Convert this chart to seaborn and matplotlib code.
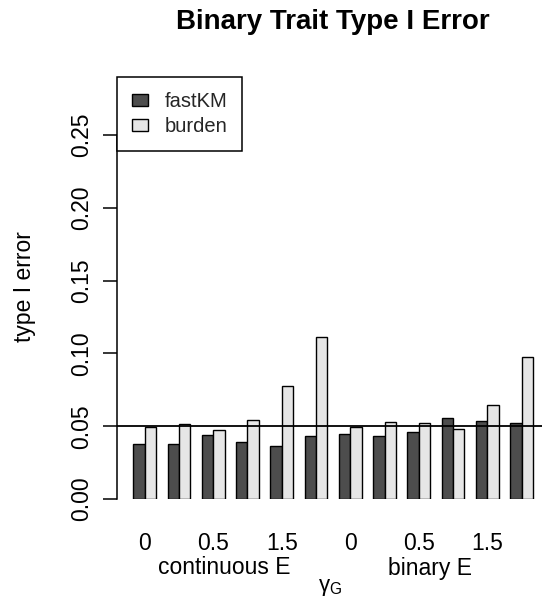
import numpy as np
import pandas as pd
import matplotlib
matplotlib.use("Agg")
import matplotlib.pyplot as plt
import matplotlib.transforms as mtransforms
from matplotlib.patches import Patch
import seaborn as sns

# Simulated type I error rates, six gamma_G settings per environment type
environments = ["continuous E", "binary E"]
gamma_labels = ["0", "", "0.5", "", "1.5", ""]
fastkm = [0.0375, 0.0375, 0.0443, 0.0391, 0.0366, 0.0430,
          0.0450, 0.0430, 0.0459, 0.0559, 0.0536, 0.0523]
burden = [0.0495, 0.0514, 0.0473, 0.0545, 0.0775, 0.1116,
          0.0495, 0.0530, 0.0523, 0.0484, 0.0645, 0.0975]
methods = ["fastKM", "burden"]
colors = {"fastKM": "#4d4d4d", "burden": "#e6e6e6"}
alpha_level = 0.05

n_groups = len(fastkm)
groups = [f"{env}|{i}" for env in environments for i in range(len(gamma_labels))]
df = pd.DataFrame({
    "group": groups * 2,
    "method": ["fastKM"] * n_groups + ["burden"] * n_groups,
    "rate": fastkm + burden,
})

sns.set_theme(style="white")
plt.rcParams["font.family"] = ["Liberation Sans", "DejaVu Sans"]
plt.rcParams["mathtext.fontset"] = "custom"
plt.rcParams["mathtext.rm"] = "Liberation Sans"

W, H = 542, 606
fig = plt.figure(figsize=(W / 100, H / 100), dpi=100)
ax = fig.add_axes([117 / W, 1 - 499 / H, (549 - 117) / W, (499 - 77) / H])

sns.barplot(data=df, x="group", y="rate", hue="method", order=groups,
            hue_order=methods, palette=colors, saturation=1, width=2 / 3,
            edgecolor="black", linewidth=1.0, errorbar=None, ax=ax,
            legend=False)

ax.set_xlim(-0.808, 11.80)
ax.set_ylim(0, 0.29)
ax.axhline(alpha_level, color="black", lw=1.3, zorder=5)

# y axis in base-R style: bounded spine, outward ticks, rotated labels
for side in ["top", "right", "bottom"]:
    ax.spines[side].set_visible(False)
ax.spines["left"].set_bounds(0, 0.25)
ax.spines["left"].set_color("black")
ax.spines["left"].set_linewidth(1.1)
yticks = [0.00, 0.05, 0.10, 0.15, 0.20, 0.25]
ax.set_yticks(yticks)
ax.set_yticklabels([f"{t:.2f}" for t in yticks], rotation=90, va="center")
ax.tick_params(axis="y", direction="out", length=10, width=1.1,
               color="black", pad=7, labelsize=16.5, labelcolor="black",
               left=True)

ax.set_xticks(range(n_groups))
ax.set_xticklabels(gamma_labels * len(environments))
ax.tick_params(axis="x", length=0, pad=24, labelsize=16.5, labelcolor="black")
ax.set_xlabel("")
ax.set_ylabel("")

# environment labels under each block of six groups
trans = mtransforms.blended_transform_factory(ax.transData, fig.transFigure)
for k, env in enumerate(environments):
    xc = k * len(gamma_labels) + (len(gamma_labels) - 1) / 2 - 0.18
    ax.text(xc, 1 - 568 / H, env, transform=trans, ha="center", va="center",
            fontsize=16.5, color="black")

fig.text(330 / W, 1 - 588 / H, "γ$_{\\mathrm{G}}$", ha="center",
         va="center", fontsize=16, color="black")
fig.text(25 / W, 1 - 287 / H, "type I error", rotation=90, ha="center",
         va="center", fontsize=16.5, color="black")
fig.text(333 / W, 1 - 22 / H, "Binary Trait Type I Error", ha="center",
         va="center", fontsize=20, fontweight="bold", color="black")

handles = [Patch(facecolor=colors[m], edgecolor="black", linewidth=1.0)
           for m in methods]
leg = ax.legend(handles, methods, loc="upper left", bbox_to_anchor=(0, 1),
                borderaxespad=0, fancybox=False, frameon=True, fontsize=14.5,
                handlelength=0.8, handleheight=0.6, handletextpad=0.8,
                labelspacing=0.3, borderpad=0.75)
leg.get_frame().set_edgecolor("black")
leg.get_frame().set_linewidth(1.1)
leg.get_frame().set_alpha(1)

fig.savefig("out.png", dpi=100)
